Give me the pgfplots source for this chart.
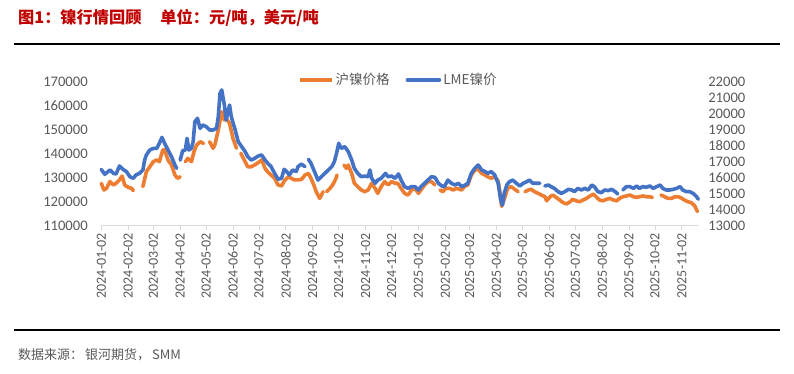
\documentclass[border=0pt]{standalone}
\usepackage{fontspec}
\usepackage{pgfplots}
\pgfplotsset{compat=1.18}
\setmainfont{Carlito}
\newfontfamily\cjk{Noto Sans CJK SC}
\definecolor{cOrange}{HTML}{ED7D31}
\definecolor{cBlue}{HTML}{4472C4}
\definecolor{cGray}{HTML}{595959}
\definecolor{cAxis}{HTML}{D9D9D9}
\definecolor{cRed}{HTML}{C00000}
\newcommand\tickfont{\fontsize{14.6bp}{16bp}\selectfont}
\begin{document}
\begin{tikzpicture}
\path (0bp,0bp) rectangle (794bp,-374bp);
\node[anchor=west, text=cRed, font=\cjk\bfseries\fontsize{16.2bp}{18bp}\selectfont, inner sep=0pt] at (18bp,-18bp) {图1：镍行情回顾\hspace{19bp}单位：元/吨，美元/吨};
\draw[line width=2bp] (14bp,-44.3bp) -- (780bp,-44.3bp);
\draw[line width=2bp] (14bp,-330bp) -- (780bp,-330bp);
\node[anchor=west, text=cGray, font=\cjk\fontsize{13bp}{14bp}\selectfont, inner sep=0pt] at (18bp,-355bp) {数据来源：\hspace{2bp}银河期货，\hspace{2bp}SMM};

\begin{axis}[
  at={(100.7bp,-225.5bp)}, anchor=south west,
  scale only axis, width=597.6bp, height=144bp,
  xmin=0.3, xmax=690, ymin=110000, ymax=170000,
  scaled ticks=false,
  separate axis lines,
  axis x line*=bottom, axis y line*=left,
  x axis line style={draw=cAxis, line width=1bp, -},
  y axis line style={draw=none},
  xtick={1,32,61,92,122,153,183,214,245,275,306,336,367,398,426,457,487,518,548,579,610,640,671},
  xticklabels={2024-01-02,2024-02-02,2024-03-02,2024-04-02,2024-05-02,2024-06-02,2024-07-02,2024-08-02,2024-09-02,2024-10-02,2024-11-02,2024-12-02,2025-01-02,2025-02-02,2025-03-02,2025-04-02,2025-05-02,2025-06-02,2025-07-02,2025-08-02,2025-09-02,2025-10-02,2025-11-02},
  xtick align=outside, major tick length=4bp,
  xtick style={draw=cAxis, line width=0.8bp},
  ytick={110000,120000,130000,140000,150000,160000,170000},
  yticklabels={110000,120000,130000,140000,150000,160000,170000},
  ytick style={draw=none},
  tick label style={text=cGray, font=\tickfont},
  xticklabel style={rotate=90, anchor=east, font=\fontsize{14bp}{16bp}\selectfont},
  yticklabel style={anchor=east, xshift=-9.5bp},
  unbounded coords=jump,
  clip=false,
]
\addplot[cOrange, line width=3.6bp, line join=round, line cap=round] table[x=d,y=v] {
d v
1 127600
4 124800
7 125500
11 128300
15 126900
18 127600
22 129000
25 130600
28 126900
32 125900
36 125500
38 124500
39 nan
49 126200
53 132400
57 134500
61 136600
65 137300
68 136600
72 141500
74 141500
78 137300
82 135200
86 131000
89 129700
92 130300
93 nan
98 136600
101 138000
105 136600
108 140800
111 143500
115 144900
119 144200
120 nan
126 144900
128 143500
130 142200
132 143500
136 149800
140 157400
143 154000
145 154700
149 152600
153 146300
157 142200
158 nan
162 140100
166 137300
170 134500
174 134500
178 135200
182 136200
186 137300
190 133800
193 132400
197 131000
201 129700
205 126900
209 126500
213 129000
217 130300
220 129700
224 129000
228 129000
232 129200
236 131000
240 131700
243 129700
247 126200
249 124100
253 121300
257 124100
258 nan
261 124100
265 125500
268 126900
272 129700
273 131000
274 nan
281 135200
284 133800
286 135200
290 131700
293 127600
297 126200
301 124800
305 124100
309 124800
313 127600
317 125500
320 123400
324 126200
328 128300
332 126900
336 128300
340 127600
343 127600
347 125500
351 123400
355 122700
359 124800
363 125500
367 123400
370 124800
374 126900
378 128300
382 128300
386 126900
387 nan
392 124800
395 124100
399 125500
403 125500
407 124800
411 125500
417 124800
420 126200
424 126900
428 131000
432 133100
436 133400
440 131700
444 131000
447 130300
451 129700
455 130300
459 128500
461 124000
463 118000
467 122000
470 125500
474 126200
478 125100
482 124100
483 nan
490 124100
494 124800
497 125100
501 124100
505 123400
509 122700
513 122000
515 120300
519 122000
522 122700
526 121700
530 120600
534 119500
538 119000
542 119900
545 120900
549 120300
553 119900
557 120600
561 121300
565 122300
569 123100
572 122000
576 120600
580 120300
584 120900
588 121300
592 120600
596 120300
599 121300
603 122000
607 122300
611 122700
615 122000
619 121700
622 122000
626 122300
630 122000
634 122000
637 121700
638 nan
647 122700
651 122000
655 121300
659 121300
663 122000
667 122000
671 121300
674 120600
678 119900
682 119500
686 118100
689 115800
};
\end{axis}

\begin{axis}[
  at={(100.7bp,-225.5bp)}, anchor=south west,
  scale only axis, width=597.6bp, height=144bp,
  xmin=0.3, xmax=690, ymin=13000, ymax=22000,
  scaled ticks=false,
  axis x line=none, axis y line*=right,
  y axis line style={draw=none},
  ytick={13000,14000,15000,16000,17000,18000,19000,20000,21000,22000},
  yticklabels={13000,14000,15000,16000,17000,18000,19000,20000,21000,22000},
  ytick style={draw=none},
  tick label style={text=cGray, font=\tickfont},
  yticklabel style={anchor=west, xshift=6.5bp},
  unbounded coords=jump,
  clip=false,
  legend columns=2,
  legend style={draw=none, fill=none, at={(0.498,1.0104)}, anchor=center,
    font=\cjk\fontsize{13.5bp}{15bp}\selectfont, text=cGray,
    /tikz/every even column/.append style={column sep=14bp},
    inner sep=0pt},
  legend image code/.code={\draw[#1] (0bp,0bp) -- (32bp,0bp);},
]
\addlegendimage{cOrange, line width=3.6bp}
\addlegendentry{沪镍价格}
\addplot[cBlue, line width=3.6bp, line join=round, line cap=round] table[x=d,y=v] {
d v
1 16500
5 16200
11 16470
15 16260
18 16220
22 16720
26 16510
30 16370
34 16050
38 15950
41 16160
45 16260
49 16470
51 17090
53 17410
57 17720
61 17820
65 17820
68 18140
71 18510
74 18140
78 17720
82 17300
86 16780
88 16570
89 nan
92 17090
95 17680
98 17720
100 18450
102 17720
105 17820
107 18240
109 19490
112 19700
115 19070
118 19280
122 19180
126 18970
130 18970
134 19070
136 19800
138 21260
140 21470
143 20530
145 19590
149 20530
151 19800
155 19070
159 18240
163 17930
167 17620
170 17300
174 17090
178 17200
182 17340
186 17410
190 17090
193 16890
197 16680
201 16260
205 15890
209 15950
212 16510
215 16370
218 16160
222 16470
226 16370
228 16680
232 16840
236 16680
237 nan
240 17140
243 16890
247 16370
251 15840
255 16050
259 16260
263 16470
267 16680
270 16990
273 17620
275 18140
278 17820
282 17930
286 17620
290 17090
293 16570
297 16260
301 16050
305 16090
309 16050
311 16470
313 15950
317 15640
320 15840
324 15950
329 16260
332 16050
336 16090
340 15950
344 16220
347 15840
351 15430
355 15320
359 15430
363 15430
367 15220
370 15430
374 15640
378 15840
382 16050
386 16010
390 15640
394 15470
397 15430
401 15840
405 15640
409 15530
413 15640
417 15430
421 15530
424 15640
428 16260
432 16570
436 16780
440 16470
444 16370
447 16260
451 16370
455 16160
459 15640
462 14590
464 14280
466 15010
469 15530
472 15740
476 15840
480 15640
484 15470
488 15640
492 15740
495 15840
499 15640
503 15640
507 15640
508 nan
513 15470
517 15530
520 15430
524 15320
528 15120
532 15010
536 15120
540 15260
544 15220
547 15120
551 15320
555 15220
559 15320
563 15220
567 15530
570 15430
574 15120
578 15050
582 15220
586 15180
590 15260
594 15120
597 14970
598 nan
603 15220
607 15430
611 15430
615 15320
619 15470
622 15320
626 15430
630 15390
634 15470
638 15320
642 15430
646 15530
649 15320
653 15220
657 15220
661 15260
665 15320
669 15430
672 15220
676 15120
680 15120
684 15010
688 14800
690 14640
};
\addlegendentry{LME镍价}
\end{axis}
\end{tikzpicture}
\end{document}
